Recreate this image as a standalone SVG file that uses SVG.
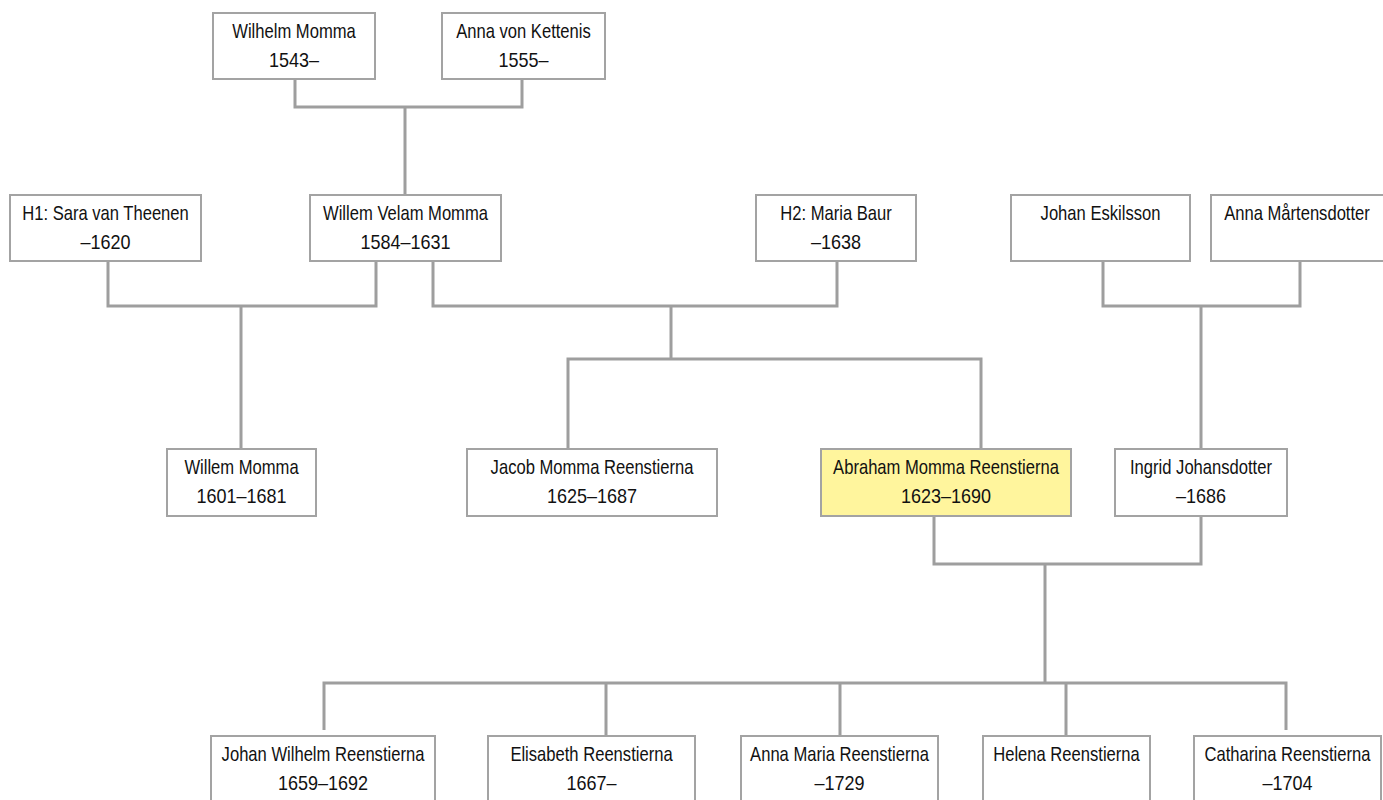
<svg xmlns="http://www.w3.org/2000/svg" width="1383" height="800" viewBox="0 0 1383 800">
<style>
.box{fill:#ffffff;stroke:#a3a3a3;stroke-width:2}
.hl{fill:#fff59d}
.t{font-family:"Liberation Sans",Arial,sans-serif;font-size:20px;fill:#111111;text-anchor:middle}
.c{fill:none;stroke:#9e9e9e;stroke-width:3}
</style>
<rect width="1383" height="800" fill="#ffffff"/>
<g id="connectors">
<path class="c" d="M295,79 V107 H522 V79 M405,107 V195"/>
<path class="c" d="M108,261 V306 H376 V261 M241,306 V449"/>
<path class="c" d="M433,261 V306 H837 V261 M671,306 V359 M568,449 V359 H981 V449"/>
<path class="c" d="M1103,261 V306 H1300 V261 M1201,306 V449"/>
<path class="c" d="M934,516 V564 H1201 V516 M1045,564 V683 M324,730 V683 H1286 V730 M606,683 V736 M840,683 V736 M1066,683 V736"/>
</g>
<g id="n-wilhelm-momma"><rect class="box" x="213" y="13" width="162" height="66"/><text class="t" transform="translate(294 38) scale(0.83 1)">Wilhelm Momma</text><text class="t" transform="translate(294 67) scale(0.9 1)">1543–</text></g>
<g id="n-anna-von-kettenis"><rect class="box" x="442" y="13" width="163" height="66"/><text class="t" transform="translate(523.5 38) scale(0.83 1)">Anna von Kettenis</text><text class="t" transform="translate(523.5 67) scale(0.9 1)">1555–</text></g>
<g id="n-sara-van-theenen"><rect class="box" x="10" y="195" width="191" height="66"/><text class="t" transform="translate(105.5 220) scale(0.83 1)">H1: Sara van Theenen</text><text class="t" transform="translate(105.5 249) scale(0.9 1)">–1620</text></g>
<g id="n-willem-velam-momma"><rect class="box" x="310" y="195" width="191" height="66"/><text class="t" transform="translate(405.5 220) scale(0.83 1)">Willem Velam Momma</text><text class="t" transform="translate(405.5 249) scale(0.9 1)">1584–1631</text></g>
<g id="n-maria-baur"><rect class="box" x="756" y="195" width="160" height="66"/><text class="t" transform="translate(836 220) scale(0.83 1)">H2: Maria Baur</text><text class="t" transform="translate(836 249) scale(0.9 1)">–1638</text></g>
<g id="n-johan-eskilsson"><rect class="box" x="1011" y="195" width="179" height="66"/><text class="t" transform="translate(1100.5 220) scale(0.83 1)">Johan Eskilsson</text></g>
<g id="n-anna-martensdotter"><rect class="box" x="1211" y="195" width="174" height="66"/><text class="t" transform="translate(1297 220) scale(0.83 1)">Anna Mårtensdotter</text></g>
<g id="n-willem-momma"><rect class="box" x="167" y="449" width="149" height="67"/><text class="t" transform="translate(241.5 474) scale(0.83 1)">Willem Momma</text><text class="t" transform="translate(241.5 503) scale(0.9 1)">1601–1681</text></g>
<g id="n-jacob"><rect class="box" x="467" y="449" width="250" height="67"/><text class="t" transform="translate(592 474) scale(0.83 1)">Jacob Momma Reenstierna</text><text class="t" transform="translate(592 503) scale(0.9 1)">1625–1687</text></g>
<g id="n-abraham"><rect class="box hl" x="821" y="449" width="250" height="67"/><text class="t" transform="translate(946 474) scale(0.83 1)">Abraham Momma Reenstierna</text><text class="t" transform="translate(946 503) scale(0.9 1)">1623–1690</text></g>
<g id="n-ingrid"><rect class="box" x="1115" y="449" width="172" height="67"/><text class="t" transform="translate(1201 474) scale(0.83 1)">Ingrid Johansdotter</text><text class="t" transform="translate(1201 503) scale(0.9 1)">–1686</text></g>
<g id="n-johan-wilhelm"><rect class="box" x="211" y="736" width="224" height="67"/><text class="t" transform="translate(323 761) scale(0.83 1)">Johan Wilhelm Reenstierna</text><text class="t" transform="translate(323 790) scale(0.9 1)">1659–1692</text></g>
<g id="n-elisabeth"><rect class="box" x="488" y="736" width="207" height="67"/><text class="t" transform="translate(591.5 761) scale(0.83 1)">Elisabeth Reenstierna</text><text class="t" transform="translate(591.5 790) scale(0.9 1)">1667–</text></g>
<g id="n-anna-maria"><rect class="box" x="741" y="736" width="197" height="67"/><text class="t" transform="translate(839.5 761) scale(0.83 1)">Anna Maria Reenstierna</text><text class="t" transform="translate(839.5 790) scale(0.9 1)">–1729</text></g>
<g id="n-helena"><rect class="box" x="983" y="736" width="167" height="67"/><text class="t" transform="translate(1066.5 761) scale(0.83 1)">Helena Reenstierna</text></g>
<g id="n-catharina"><rect class="box" x="1194" y="736" width="187" height="67"/><text class="t" transform="translate(1287.5 761) scale(0.83 1)">Catharina Reenstierna</text><text class="t" transform="translate(1287.5 790) scale(0.9 1)">–1704</text></g>
</svg>
